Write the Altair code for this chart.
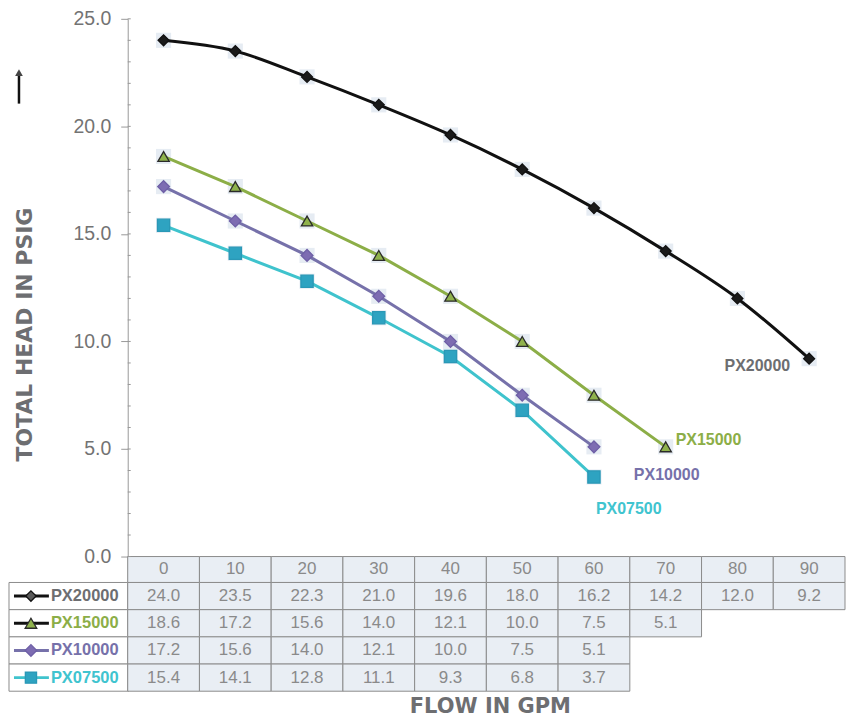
import altair as alt
import pandas as pd

# ---------------- data ----------------
flow = [0, 10, 20, 30, 40, 50, 60, 70, 80, 90]
series = ["PX20000", "PX15000", "PX10000", "PX07500"]
head_px20000 = [24.0, 23.5, 22.3, 21.0, 19.6, 18.0, 16.2, 14.2, 12.0, 9.2]
head_px15000 = [18.6, 17.2, 15.6, 14.0, 12.1, 10.0, 7.5, 5.1]
head_px10000 = [17.2, 15.6, 14.0, 12.1, 10.0, 7.5, 5.1]
head_px07500 = [15.4, 14.1, 12.8, 11.1, 9.3, 6.8, 3.7]
y_ticks = [0, 5, 10, 15, 20, 25]
minor_ticks = list(range(0, 26))

heads = dict(zip(series, [head_px20000, head_px15000, head_px10000, head_px07500]))

# ---------------- styles ----------------
line_color = {"PX20000": "#111111", "PX15000": "#8cae47", "PX10000": "#7671aa", "PX07500": "#3fc3cd"}
marker_fill = {"PX20000": "#1a1a1a", "PX15000": "#8fb24c", "PX10000": "#7d6cb2", "PX07500": "#2ea3c1"}
marker_stroke = {"PX20000": "#111111", "PX15000": "#2b2b2b", "PX10000": "#6e5fa6", "PX07500": "#2a98b6"}
marker_shape = {"PX20000": "diamond", "PX15000": "triangle-up", "PX10000": "diamond", "PX07500": "square"}
marker_size = {"PX20000": 120, "PX15000": 150, "PX10000": 150, "PX07500": 140}
label_color = {"PX20000": "#6d6e71", "PX15000": "#8cae47", "PX10000": "#7671aa", "PX07500": "#40c4cf"}
legend_line = {"PX20000": "#111111", "PX15000": "#111111", "PX10000": "#7671aa", "PX07500": "#3fc3cd"}
legend_fill = {"PX20000": "#5a5a5a", "PX15000": "#8fb24c", "PX10000": "#7d6cb2", "PX07500": "#2ea3c1"}

GRAY_TITLE = "#6d6e71"
TABLE_FILL = "#e9eef4"
TABLE_BORDER = "#8c8c8c"
TABLE_TEXT = "#8a8a8a"

# ---------------- layout (pixels) ----------------
W = 719
PX_PER_UNIT_Y = 539 / 25
HEADER_TOP, HEADER_H, ROW_H = 539, 26, 27.25
H = HEADER_TOP + HEADER_H + 4 * ROW_H
PX_PER_UNIT_X = W / 100
Y_MIN = 25 - H / PX_PER_UNIT_Y
LEG_W = 119


def xu(px):
    return -5 + px / PX_PER_UNIT_X


def yu(px):
    return 25 - px / PX_PER_UNIT_Y


xs = alt.Scale(domain=[-5, 95], nice=False, zero=False)
ys = alt.Scale(domain=[Y_MIN, 25], nice=False, zero=False)

Y_AXIS = alt.Axis(values=y_ticks, format=".1f", grid=False,
                  labelFont="Liberation Sans", labelFontSize=19.5, labelColor="#737373",
                  labelPadding=10, tickSize=7, tickColor="#999999", domainColor="#999999",
                  titleFont="DejaVu Sans", titleFontWeight="bold", titleFontSize=22,
                  titleColor=GRAY_TITLE, titleAngle=270, titleX=-96, titleY=316,
                  titleAlign="center", titleBaseline="alphabetic")
Y_TITLE = "TOTAL HEAD IN PSIG"


def X(f):
    return alt.X(f, type="quantitative", scale=xs, axis=None)


def Y(f):
    return alt.Y(f, type="quantitative", scale=ys, axis=Y_AXIS, title=Y_TITLE)


# points table
pts = pd.DataFrame(
    [{"series": s, "flow": flow[i], "head": v} for s in series for i, v in enumerate(heads[s])]
)

# table cells
cells = []
for f in flow:
    cells.append({"x0": f - 5, "x1": f + 5, "y0": yu(HEADER_TOP), "y1": yu(HEADER_TOP + HEADER_H),
                  "yc": yu(HEADER_TOP + HEADER_H / 2), "xc": f, "text": str(f), "fill": TABLE_FILL})
for r, s in enumerate(series):
    top = HEADER_TOP + HEADER_H + r * ROW_H
    cells.append({"x0": xu(-LEG_W), "x1": -5, "y0": yu(top), "y1": yu(top + ROW_H),
                  "yc": yu(top + ROW_H / 2), "xc": None, "text": "", "fill": "#ffffff"})
    for i, v in enumerate(heads[s]):
        cells.append({"x0": flow[i] - 5, "x1": flow[i] + 5, "y0": yu(top), "y1": yu(top + ROW_H),
                      "yc": yu(top + ROW_H / 2), "xc": flow[i], "text": f"{v:.1f}", "fill": TABLE_FILL})
cells = pd.DataFrame(cells)

legend = pd.DataFrame([
    {"series": s,
     "yc": yu(HEADER_TOP + HEADER_H + r * ROW_H + ROW_H / 2),
     "lx0": xu(-LEG_W + 5), "lx1": xu(-LEG_W + 40), "mx": xu(-LEG_W + 22), "tx": xu(-LEG_W + 42),
     "lcol": legend_line[s], "mfill": legend_fill[s], "mstroke": marker_stroke[s] if s != "PX20000" else "#111111",
     "shape": marker_shape[s], "msize": marker_size[s] * 0.9, "tcol": label_color[s]}
    for r, s in enumerate(series)
])

ticks_df = pd.DataFrame({"t": minor_ticks})
one = pd.DataFrame({"a": [0]})

# ---------------- layers ----------------
table_rect = alt.Chart(cells).mark_rect(stroke=TABLE_BORDER, strokeWidth=1).encode(
    x=X("x0"), x2="x1", y=Y("y0"), y2="y1", fill=alt.Fill("fill:N", scale=None)
)
table_text = alt.Chart(cells[cells.text != ""]).mark_text(
    font="Liberation Sans", fontSize=17, color=TABLE_TEXT, baseline="middle", align="center"
).encode(x=X("xc"), y=Y("yc"), text="text:N")

minor = alt.Chart(ticks_df).mark_rule(color="#999999", strokeWidth=1).encode(
    x=alt.value(0), x2=alt.value(3), y=Y("t")
)

bg_boxes = alt.Chart(pts).mark_square(size=230, color="#e6ecf3", opacity=1).encode(
    x=X("flow"), y=Y("head")
)

line_main = alt.Chart(pts[pts.series == "PX20000"]).mark_line(
    interpolate="monotone", strokeWidth=3, color=line_color["PX20000"]
).encode(x=X("flow"), y=Y("head"))

others = [s for s in series if s != "PX20000"]
line_others = alt.Chart(pts[pts.series != "PX20000"]).mark_line(strokeWidth=3).encode(
    x=X("flow"), y=Y("head"),
    color=alt.Color("series:N", scale=alt.Scale(domain=others, range=[line_color[s] for s in others]), legend=None),
)

points = alt.Chart(pts).mark_point(filled=True, opacity=1, strokeWidth=1.3).encode(
    x=X("flow"), y=Y("head"),
    shape=alt.Shape("series:N", scale=alt.Scale(domain=series, range=[marker_shape[s] for s in series]), legend=None),
    fill=alt.Fill("series:N", scale=alt.Scale(domain=series, range=[marker_fill[s] for s in series]), legend=None),
    stroke=alt.Stroke("series:N", scale=alt.Scale(domain=series, range=[marker_stroke[s] for s in series]), legend=None),
    size=alt.Size("series:N", scale=alt.Scale(domain=series, range=[marker_size[s] for s in series]), legend=None),
)

label_offsets = {"PX20000": ("right", -19, 7), "PX15000": ("left", 10, -7),
                 "PX10000": ("left", 40, 28), "PX07500": ("left", 2, 32)}
end_labels = []
for s in series:
    al, dx, dy = label_offsets[s]
    last = pts[pts.series == s].tail(1)
    end_labels.append(
        alt.Chart(last).mark_text(font="Liberation Sans", fontWeight="bold", fontSize=16,
                                  color=label_color[s], align=al, baseline="middle", dx=dx, dy=dy)
        .encode(x=X("flow"), y=Y("head"), text="series:N")
    )

leg_lines = alt.Chart(legend).mark_rule(strokeWidth=3).encode(
    x=X("lx0"), x2="lx1", y=Y("yc"), color=alt.Color("lcol:N", scale=None)
)
leg_marks = alt.Chart(legend).mark_point(filled=True, opacity=1, strokeWidth=1.3).encode(
    x=X("mx"), y=Y("yc"),
    shape=alt.Shape("shape:N", scale=None),
    fill=alt.Fill("mfill:N", scale=None),
    stroke=alt.Stroke("mstroke:N", scale=None),
    size=alt.Size("msize:Q", scale=None),
)
leg_text = alt.Chart(legend).mark_text(font="Liberation Sans", fontWeight="bold", fontSize=16.5,
                                       align="left", baseline="middle").encode(
    x=X("tx"), y=Y("yc"), text="series:N", color=alt.Color("tcol:N", scale=None)
)

x_title = alt.Chart(one).mark_text(font="DejaVu Sans", fontWeight="bold", fontSize=21, color=GRAY_TITLE,
                                   align="center", baseline="middle", text="FLOW IN GPM").encode(
    x=alt.value(W / 2 + 4), y=alt.value(H + 16)
)
arrow_line = alt.Chart(one).mark_rule(color="#111111", strokeWidth=2.5).encode(
    x=alt.value(-109), y=alt.value(57), y2=alt.value(85)
)
arrow_head = alt.Chart(one).mark_point(shape="triangle-up", filled=True, color="#444444", size=60, opacity=1).encode(
    x=alt.value(-109), y=alt.value(54)
)

chart = alt.layer(
    table_rect, table_text, minor, bg_boxes, line_main, line_others, points,
    *end_labels, leg_lines, leg_marks, leg_text, x_title, arrow_line, arrow_head
).properties(
    width=W, height=H, padding={"left": 0, "top": 0, "right": 0, "bottom": 0}, background="#ffffff"
).configure_view(stroke=None)

chart.save("out.html", embed_options={"renderer": "svg", "actions": False})
